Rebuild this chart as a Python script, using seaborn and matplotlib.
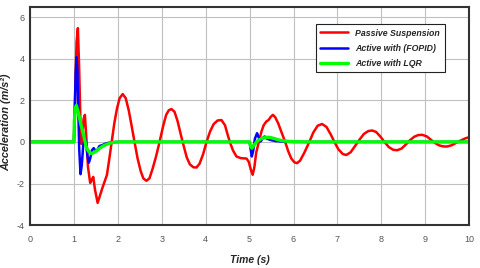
import numpy as np
import pandas as pd
import matplotlib
matplotlib.use("Agg")
import matplotlib.pyplot as plt
import seaborn as sns

# values (time in s, acceleration in m/s^2)
passive_t = [0, 1.0, 1.03, 1.06, 1.09, 1.12, 1.15, 1.17, 1.19, 1.22, 1.25, 1.28, 1.32, 1.37,
             1.41, 1.44, 1.48, 1.54, 1.59, 1.65, 1.75, 1.80, 1.86, 1.92, 1.98, 2.04, 2.11,
             2.18, 2.25, 2.32, 2.38, 2.45, 2.52, 2.58, 2.65, 2.72, 2.79, 2.87, 2.95, 3.03,
             3.10, 3.16, 3.22, 3.29, 3.36, 3.44, 3.50, 3.57, 3.64, 3.72, 3.79, 3.86, 3.94,
             4.02, 4.10, 4.18, 4.27, 4.36, 4.44, 4.50, 4.55, 4.62, 4.70, 4.80, 4.93, 4.98,
             5.03, 5.07, 5.11, 5.15, 5.21, 5.27, 5.32, 5.38, 5.43, 5.48, 5.53, 5.58, 5.65,
             5.72, 5.81, 5.88, 5.95, 6.02, 6.08, 6.15, 6.25, 6.36, 6.45, 6.55, 6.65, 6.75,
             6.85, 6.93, 7.02, 7.12, 7.20, 7.30, 7.40, 7.50, 7.60, 7.70, 7.79, 7.88, 7.98,
             8.07, 8.17, 8.27, 8.36, 8.46, 8.56, 8.65, 8.75, 8.84, 8.93, 9.03, 9.13, 9.22,
             9.32, 9.42, 9.50, 9.60, 9.70, 9.80, 9.90, 10.0]
passive_a = [0, 0, 2.5, 4.8, 5.47, 3.5, 0.8, -0.1, 0.2, 1.1, 1.3, 0.3, -1.2, -1.97,
             -1.8, -1.68, -2.3, -2.93, -2.6, -2.2, -1.6, -0.9, 0.0, 0.9, 1.6, 2.1, 2.3,
             2.1, 1.5, 0.7, 0.0, -0.8, -1.4, -1.75, -1.87, -1.75, -1.3, -0.7, 0.0, 0.75,
             1.3, 1.52, 1.58, 1.45, 1.0, 0.3, -0.2, -0.75, -1.08, -1.22, -1.23, -1.05, -0.6,
             0.0, 0.5, 0.85, 1.03, 1.05, 0.8, 0.35, 0.0, -0.4, -0.7, -0.78, -0.8, -0.95,
             -1.35, -1.58, -1.2, -0.52, 0.0, 0.5, 0.8, 0.98, 1.05, 1.2, 1.3, 1.2, 0.9,
             0.5, 0.0, -0.45, -0.8, -0.98, -1.02, -0.9, -0.5, 0.0, 0.45, 0.78, 0.86, 0.72,
             0.35, 0.0, -0.35, -0.58, -0.63, -0.5, -0.2, 0.1, 0.38, 0.52, 0.55, 0.48, 0.25,
             0.0, -0.25, -0.38, -0.4, -0.32, -0.12, 0.08, 0.25, 0.33, 0.34, 0.27, 0.1, -0.05,
             -0.17, -0.22, -0.22, -0.16, -0.05, 0.06, 0.16, 0.23]

fopid_t = [0, 1.0, 1.02, 1.04, 1.06, 1.08, 1.10, 1.12, 1.15, 1.18, 1.21, 1.25, 1.28, 1.31,
           1.34, 1.37, 1.41, 1.45, 1.49, 1.53, 1.58, 1.65, 1.72, 1.80, 1.90, 2.0, 5.0,
           5.02, 5.05, 5.08, 5.12, 5.17, 5.21, 5.25, 5.30, 5.34, 5.40, 5.5, 5.6, 5.8, 6.0, 10.0]
fopid_a = [0, 0, 1.5, 3.3, 4.08, 3.4, 1.5, -0.3, -1.55, -1.1, -0.2, 0.2, -0.1, -0.7,
           -1.0, -0.8, -0.4, -0.3, -0.42, -0.4, -0.2, -0.15, -0.08, -0.04, -0.01, 0, 0,
           -0.3, -0.7, -0.45, 0.15, 0.42, 0.2, 0.02, 0.18, 0.26, 0.15, 0.08, 0.04, 0.01, 0, 0]

lqr_t = [0, 1.0, 1.01, 1.03, 1.055, 1.09, 1.13, 1.17, 1.21, 1.25, 1.28, 1.33, 1.40, 1.47,
         1.53, 1.59, 1.66, 1.74, 1.82, 1.92, 2.05, 5.0, 5.02, 5.05, 5.10, 5.18, 5.28,
         5.38, 5.45, 5.55, 5.65, 5.8, 6.0, 6.2, 10.0]
lqr_a = [0, 0, 1.0, 1.6, 1.75, 1.5, 1.12, 0.75, 0.42, 0.05, -0.25, -0.45, -0.56, -0.5,
         -0.4, -0.3, -0.2, -0.12, -0.06, -0.02, 0, 0, -0.2, -0.3, -0.15, 0.05, 0.17,
         0.22, 0.22, 0.17, 0.1, 0.04, 0.01, 0, 0]

labels = ["Passive Suspension", "Active with (FOPID)", "Active with LQR"]
colors = ["#ff0000", "#0000ff", "#00ff00"]

sns.set_style("white")
plt.rcParams["font.family"] = ["Liberation Sans", "DejaVu Sans"]
plt.rcParams["axes.unicode_minus"] = False

fig = plt.figure(figsize=(4.8, 2.68), dpi=100)
ax = fig.add_axes([0.0625, 0.16, 0.915, 0.815])

series = [(passive_t, passive_a, 1.8), (fopid_t, fopid_a, 1.8), (lqr_t, lqr_a, 2.4)]
for (t, a, lw), lab, c in zip(series, labels, colors):
    df = pd.DataFrame({"t": t, "a": a})
    sns.lineplot(data=df, x="t", y="a", ax=ax, color=c, linewidth=lw, label=lab,
                 estimator=None, sort=False)

ax.set_xlim(0, 10)
ax.set_ylim(-4, 6.5)
ax.set_xticks(range(0, 11))
ax.set_yticks([-4, -2, 0, 2, 4, 6])
ax.grid(True, color="#c0c0c0", linewidth=0.8)
ax.tick_params(direction="in", length=3, width=0.8, colors="#333333",
               labelsize=6.5, labelcolor="#555555")
ax.tick_params(axis="x", pad=7)
ax.tick_params(axis="y", pad=4)
for s in ax.spines.values():
    s.set_color("#333333")
    s.set_linewidth(1.5)
    s.set_visible(True)

ax.set_xlabel("Time (s)", fontsize=7.5, fontweight="bold", fontstyle="italic")
ax.xaxis.set_label_coords(0.5, -0.135)
ax.set_ylabel("Acceleration (m/s²)", fontsize=7.8, fontweight="bold", fontstyle="italic")
ax.yaxis.set_label_coords(-0.042, 0.47)

leg = ax.legend(loc="upper right", bbox_to_anchor=(0.954, 0.94), fancybox=False,
                framealpha=1, edgecolor="#222222", handlelength=3.2,
                borderpad=0.5, labelspacing=0.7,
                prop={"size": 6.3, "weight": "bold", "style": "italic"})
leg.get_frame().set_linewidth(0.8)

fig.savefig("out.png", dpi=100)
